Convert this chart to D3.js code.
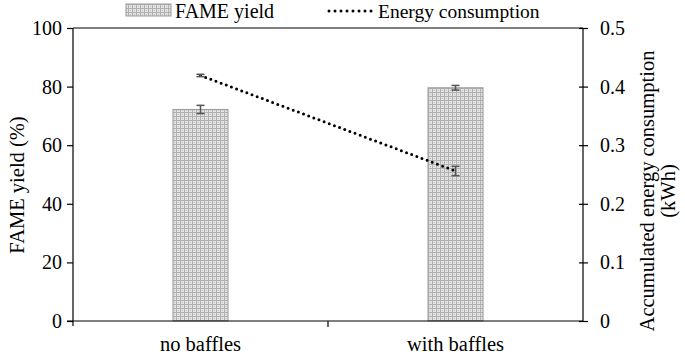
<!DOCTYPE html>
<html><head><meta charset="utf-8">
<script src="https://cdn.jsdelivr.net/npm/d3@7"></script>
<style>body{margin:0;background:#fff}</style>
</head><body><svg id="c" width="685" height="358" font-family="Liberation Serif"></svg>
<script>
const categories = ["no baffles", "with baffles"];
const fameYield = [72.2, 79.6];
const fameErr = [1.4, 0.8];
const energy = [0.419, 0.256];
const energyErr = [0.002, 0.008];
const leftTicks = [0, 20, 40, 60, 80, 100];
const rightTicks = [0, 0.1, 0.2, 0.3, 0.4, 0.5];

const FS = 20;
const FONT = "Liberation Serif";
const svg = d3.select("#c");
const m = {l:73, r:583, t:28, b:321};
const x = d3.scaleBand().domain(categories).range([m.l, m.r]);
const yL = d3.scaleLinear().domain([0,100]).range([m.b, m.t]);
const yR = d3.scaleLinear().domain([0,0.5]).range([m.b, m.t]);

const defs = svg.append("defs");
const pat = defs.append("pattern").attr("id","hatch").attr("patternUnits","userSpaceOnUse")
  .attr("width",4).attr("height",4);
pat.append("rect").attr("width",4).attr("height",4).attr("fill","#e4e4e4");
pat.append("rect").attr("x",0).attr("y",0).attr("width",4).attr("height",1).attr("fill","#b0b0b0");
pat.append("rect").attr("x",0).attr("y",0).attr("width",1).attr("height",4).attr("fill","#b0b0b0");
pat.append("rect").attr("x",2).attr("y",2).attr("width",1).attr("height",1).attr("fill","#c0c0c0");

const bw = 55;
svg.selectAll("rect.bar").data(categories).join("rect").attr("class","bar")
  .attr("x", d => x(d) + x.bandwidth()/2 - bw/2)
  .attr("width", bw)
  .attr("y", (d,i) => yL(fameYield[i]))
  .attr("height", (d,i) => m.b - yL(fameYield[i]))
  .attr("fill","url(#hatch)").attr("stroke","#9a9a9a").attr("stroke-width",1);

function errBar(cx, y0, y1){
  const g = svg.append("g").attr("stroke","#555").attr("stroke-width",1.5);
  g.append("line").attr("x1",cx).attr("x2",cx).attr("y1",y0).attr("y2",y1);
  g.append("line").attr("x1",cx-4).attr("x2",cx+4).attr("y1",y0).attr("y2",y0);
  g.append("line").attr("x1",cx-4).attr("x2",cx+4).attr("y1",y1).attr("y2",y1);
}
categories.forEach((c,i) => {
  const cx = x(c) + x.bandwidth()/2;
  errBar(cx, yL(fameYield[i]+fameErr[i]), yL(fameYield[i]-fameErr[i]));
});

const line = d3.line().x((d,i)=> x(categories[i]) + x.bandwidth()/2).y(d => yR(d));
svg.append("path").datum(energy).attr("d", line).attr("fill","none")
  .attr("stroke","#000").attr("stroke-width",3).attr("stroke-linecap","round")
  .attr("stroke-dasharray","0 5.5");
categories.forEach((c,i) => {
  const cx = x(c) + x.bandwidth()/2;
  errBar(cx, yR(energy[i]+energyErr[i]), yR(energy[i]-energyErr[i]));
});

const axL = svg.append("g").attr("transform",`translate(${m.l},0)`)
  .call(d3.axisLeft(yL).tickValues(leftTicks).tickSize(6).tickPadding(5).tickFormat(d3.format("d")));
const axR = svg.append("g").attr("transform",`translate(${m.r},0)`)
  .call(d3.axisRight(yR).tickValues(rightTicks).tickSize(5).tickPadding(12).tickFormat(d => d===0?"0":d3.format(".1f")(d)));
const axB = svg.append("g").attr("transform",`translate(0,${m.b})`)
  .call(d3.axisBottom(x).tickSize(0).tickPadding(15));
[axL, axR, axB].forEach(a => {
  a.attr("font-family", FONT).attr("font-size", FS);
  a.select(".domain").attr("stroke","#000").attr("stroke-width",1.2);
  a.selectAll(".tick line").attr("stroke","#000").attr("stroke-width",1.2);
  a.selectAll("text").attr("font-size",FS).attr("font-family",FONT).attr("fill","#000");
});
axB.selectAll("text").attr("font-size",20.5);
axL.select(".domain").attr("d", `M0,${m.t}V${m.b+5}`);
axR.select(".domain").attr("d", `M0,${m.t}V${m.b}`);
axR.selectAll(".tick line").attr("x1",-4);
axB.select(".domain").attr("d", `M${m.l-6},0H${m.r}`);
svg.append("line").attr("x1",(m.l+m.r)/2).attr("x2",(m.l+m.r)/2).attr("y1",m.b).attr("y2",m.b+6)
  .attr("stroke","#000").attr("stroke-width",1.2);
svg.append("line").attr("x1",m.l).attr("x2",m.r).attr("y1",m.t).attr("y2",m.t)
  .attr("stroke","#000").attr("stroke-width",1.2);

function txt(){ return svg.append("text").attr("font-family",FONT).attr("font-size",20.5).attr("fill","#000"); }
txt().attr("transform","translate(24,185) rotate(-90)").attr("text-anchor","middle").text("FAME yield (%)");
txt().attr("transform","translate(654,191) rotate(-90)").attr("text-anchor","middle").text("Accumulated energy consumption");
txt().attr("transform","translate(675,191) rotate(-90)").attr("text-anchor","middle").text("(kWh)");

svg.append("rect").attr("x",126).attr("y",4).attr("width",45).attr("height",12)
  .attr("fill","url(#hatch)").attr("stroke","#9a9a9a");
txt().attr("x",175).attr("y",18).attr("font-size",20).text("FAME yield");
svg.append("line").attr("x1",329).attr("x2",372).attr("y1",11).attr("y2",11)
  .attr("stroke","#000").attr("stroke-width",3).attr("stroke-linecap","round").attr("stroke-dasharray","0 6");
txt().attr("x",378).attr("y",18).attr("font-size",19.5).text("Energy consumption");
</script></body></html>
